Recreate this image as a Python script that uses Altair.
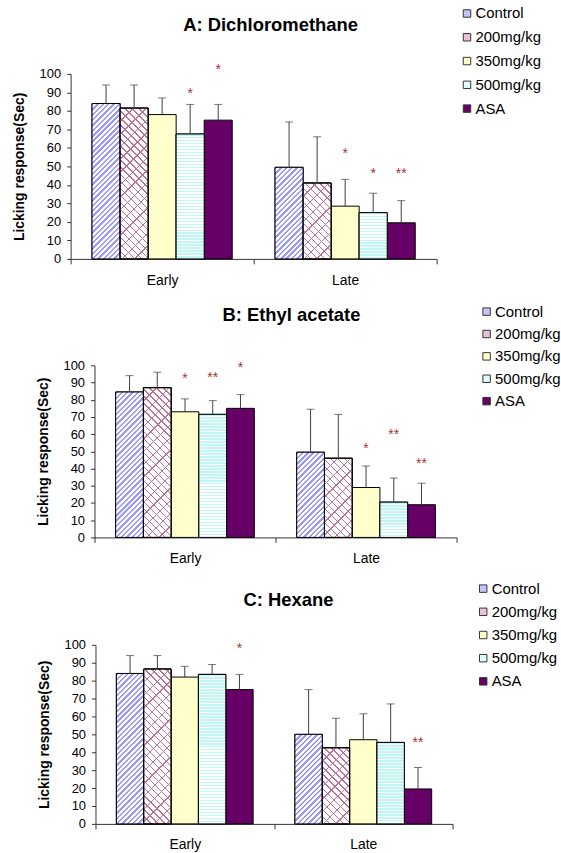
import math
import altair as alt
import pandas as pd

# ---------------- data ----------------
SERIES = ["Control", "200mg/kg", "350mg/kg", "500mg/kg", "ASA"]
GROUPS = ["Early", "Late"]
PANEL_TITLES = ["A: Dichloromethane", "B: Ethyl acetate", "C: Hexane"]
Y_TITLE = "Licking response(Sec)"
Y_TICKS = [0, 10, 20, 30, 40, 50, 60, 70, 80, 90, 100]

A_EARLY_MEAN = [84.0, 81.5, 78.0, 67.5, 75.0]
A_EARLY_TOP = [94.0, 94.0, 87.0, 83.5, 83.5]
A_LATE_MEAN = [49.5, 41.0, 28.5, 25.0, 19.5]
A_LATE_TOP = [74.0, 66.0, 43.0, 35.5, 31.5]
A_EARLY_SIG = ["", "", "", "*", "*"]
A_EARLY_SIG_AT = [None, None, None, 91.5, 104.0]
A_LATE_SIG = ["", "", "*", "*", "**"]
A_LATE_SIG_AT = [None, None, 59.0, 48.0, 48.0]

B_EARLY_MEAN = [84.5, 87.0, 73.0, 71.5, 75.0]
B_EARLY_TOP = [94.0, 96.0, 80.5, 79.5, 83.0]
B_LATE_MEAN = [49.5, 46.0, 29.0, 20.5, 19.0]
B_LATE_TOP = [74.5, 71.5, 41.5, 34.5, 31.5]
B_EARLY_SIG = ["", "", "*", "**", "*"]
B_EARLY_SIG_AT = [None, None, 94.5, 95.0, 101.0]
B_LATE_SIG = ["", "", "*", "**", "**"]
B_LATE_SIG_AT = [None, None, 53.5, 62.0, 45.0]

C_EARLY_MEAN = [84.0, 86.5, 82.0, 83.5, 75.0]
C_EARLY_TOP = [94.0, 94.0, 88.0, 89.0, 83.5]
C_LATE_MEAN = [50.0, 42.5, 47.0, 45.5, 19.5]
C_LATE_TOP = [75.0, 59.0, 61.5, 67.0, 31.5]
C_EARLY_SIG = ["", "", "", "", "*"]
C_EARLY_SIG_AT = [None, None, None, None, 100.0]
C_LATE_SIG = ["", "", "", "", "**"]
C_LATE_SIG_AT = [None, None, None, None, 47.5]

# ---------------- styles ----------------
FONT = "Liberation Sans"
SWATCH = ["#C4C4FA", "#E6C3D5", "#FFFFCC", "#DDFDFD", "#660066"]
AXIS_COLOR = "#333333"
ERR_COLOR = "#404040"
STAR_COLOR = "#A83232"
CLEAR = "rgba(255,255,255,0)"
PATTERNS = {
    "Control": [("up", "#9999FF", 3.8, 0.45, "#FFFFFF")],
    "200mg/kg": [("down", "#BD7497", 5.0, 0.2, "#FFFFFF"),
                 ("up", "#BD7497", 9.0, 0.12, CLEAR)],
    "500mg/kg": [("horiz", "#BFF6F6", 3.0, 0.5, "#FFFFFF")],
}
OFFSET_OUTER = 0.764      # empty space each side of a group, in sub-bar units
VSPACE = 16.0

# shift: how far the plot area sits right of panel A's y axis
LAYOUTS = [
    dict(W=368, H=186, shift=0, lx=391, ly=-68.2, rp=7.9, toff=-28.1, tdx=17, xlp=10),
    dict(W=364, H=173, shift=24, lx=410.7, ly=-61.5, rp=6.5, toff=-20.6, tdx=28, xlp=9),
    dict(W=359, H=180, shift=25, lx=407.3, ly=-64.0, rp=7.3, toff=-28.9, tdx=27, xlp=8.3),
]


def stripe_gradient(kind, color, period, frac, bg, w, h):
    if kind in ("up", "down"):
        s = (w + h) / (w * w + h * h)
        if kind == "up":
            x1, y1, x2, y2 = 0.0, 0.0, w * s, h * s
        else:
            x1, y1, x2, y2 = 0.0, 1.0, w * s, 1.0 - h * s
        span = (w + h) / math.sqrt(2)
    else:
        x1, y1, x2, y2 = 0.0, 0.0, 0.0, 1.0
        span = h
    n = max(span / period, 1.0)
    stops = []
    k = 0
    while k < n:
        a = k / n
        b = min((k + frac) / n, 1.0)
        c = min((k + 1) / n, 1.0)
        stops += [
            {"offset": round(a, 5), "color": color},
            {"offset": round(b, 5), "color": color},
            {"offset": round(b, 5), "color": bg},
            {"offset": round(c, 5), "color": bg},
        ]
        k += 1
    return {"gradient": "linear", "x1": round(x1, 5), "y1": round(y1, 5),
            "x2": round(x2, 5), "y2": round(y2, 5), "stops": stops}


def build_panel(title, em, et, lm, lt, es, ea, ls, la, L):
    rows = []
    for g, means, tops, sigs, ats in [("Early", em, et, es, ea), ("Late", lm, lt, ls, la)]:
        for s, m, t, sg, a in zip(SERIES, means, tops, sigs, ats):
            rows.append(dict(group=g, series=s, mean=m, top=t, sig=sg, sig_at=a))
    df = pd.DataFrame(rows)
    W, H, S = L["W"], L["H"], L["shift"]

    xaxis = alt.Axis(tickBand="extent", tickSize=5, labelPadding=L["xlp"], labelFontSize=14,
                     labelColor="black", labelFont=FONT, domainColor=AXIS_COLOR,
                     tickColor=AXIS_COLOR, labelAngle=0, grid=False)
    yaxis = alt.Axis(values=Y_TICKS, tickSize=4, labelPadding=6, labelFontSize=13,
                     labelColor="black", labelFont=FONT, titleFontSize=14,
                     titleFontWeight="bold", titleColor="black", titleFont=FONT,
                     titlePadding=13, domainColor=AXIS_COLOR, tickColor=AXIS_COLOR,
                     grid=False, offset=-S)

    def X():
        return alt.X("group:N", scale=alt.Scale(domain=GROUPS, paddingInner=0, paddingOuter=0,
                                                range=[S, S + W]),
                     axis=xaxis, title=None)

    def XO():
        return alt.XOffset("series:N", scale=alt.Scale(domain=SERIES, paddingInner=0,
                                                       paddingOuter=OFFSET_OUTER))

    def Y(field):
        return alt.Y(f"{field}:Q", scale=alt.Scale(domain=[0, 100], nice=False, zero=True),
                     axis=yaxis, title=Y_TITLE)

    legend = alt.Legend(title=None, orient="none", legendX=L["lx"], legendY=L["ly"],
                        symbolType="square", symbolSize=56, symbolStrokeColor="#333333",
                        symbolStrokeWidth=1, labelFontSize=15, labelColor="black",
                        labelFont=FONT, rowPadding=L["rp"], labelOffset=1, padding=0)

    bars = alt.Chart(df).mark_bar(stroke="black", strokeWidth=1).encode(
        x=X(), xOffset=XO(), y=Y("mean"),
        fill=alt.Fill("series:N", scale=alt.Scale(domain=SERIES, range=SWATCH), legend=legend),
    )
    layers = [bars]
    sub_w = (W / 2.0) / (len(SERIES) + 2 * OFFSET_OUTER)
    for _, r in df.iterrows():
        h = r["mean"] / 100.0 * H
        for kind, color, period, frac, bg in PATTERNS.get(r["series"], []):
            grad = stripe_gradient(kind, color, period, frac, bg, sub_w, h)
            one = pd.DataFrame([{"group": r["group"], "series": r["series"], "mean": r["mean"]}])
            layers.append(
                alt.Chart(one).mark_bar(fill=grad, stroke="black", strokeWidth=1).encode(
                    x=X(), xOffset=XO(), y=Y("mean"))
            )

    err = alt.Chart(df).mark_rule(color=ERR_COLOR, strokeWidth=1).encode(
        x=X(), xOffset=XO(), y=Y("mean"), y2="top:Q")
    caps = alt.Chart(df).mark_tick(color=ERR_COLOR, thickness=1, size=8).encode(
        x=X(), xOffset=XO(), y=Y("top"))
    sdf = df[df["sig"] != ""][["group", "series", "sig", "sig_at"]]
    stars = alt.Chart(sdf).mark_text(color=STAR_COLOR, fontSize=14, font=FONT,
                                     baseline="alphabetic", dy=8).encode(
        x=X(), xOffset=XO(), y=Y("sig_at"), text="sig:N")

    layers += [err, caps, stars]
    return alt.layer(*layers).properties(
        width=W + S, height=H,
        title=alt.TitleParams(title, fontSize=18.5, fontWeight="bold", font=FONT, color="black",
                              anchor="middle", frame="group", offset=L["toff"], dx=L["tdx"]),
    )


pA = build_panel(PANEL_TITLES[0], A_EARLY_MEAN, A_EARLY_TOP, A_LATE_MEAN, A_LATE_TOP,
                 A_EARLY_SIG, A_EARLY_SIG_AT, A_LATE_SIG, A_LATE_SIG_AT, LAYOUTS[0])
pB = build_panel(PANEL_TITLES[1], B_EARLY_MEAN, B_EARLY_TOP, B_LATE_MEAN, B_LATE_TOP,
                 B_EARLY_SIG, B_EARLY_SIG_AT, B_LATE_SIG, B_LATE_SIG_AT, LAYOUTS[1])
pC = build_panel(PANEL_TITLES[2], C_EARLY_MEAN, C_EARLY_TOP, C_LATE_MEAN, C_LATE_TOP,
                 C_EARLY_SIG, C_EARLY_SIG_AT, C_LATE_SIG, C_LATE_SIG_AT, LAYOUTS[2])

chart = alt.vconcat(
    pA, pB, pC,
    spacing=VSPACE,
).resolve_scale(fill="independent", xOffset="independent").resolve_legend(
    fill="independent"
).properties(
    padding={"left": 12, "top": 3, "right": 0, "bottom": 0},
    background="white",
).configure(font=FONT).configure_view(stroke=None)

chart.save("out.html", embed_options={"renderer": "svg", "actions": False})
